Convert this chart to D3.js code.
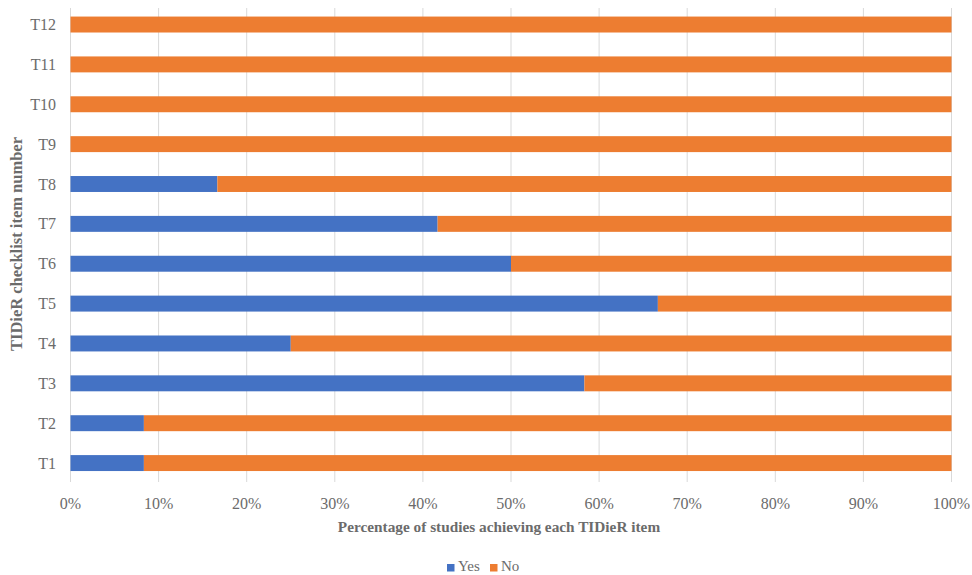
<!DOCTYPE html>
<html><head><meta charset="utf-8">
<script src="https://cdn.jsdelivr.net/npm/d3@7"></script>
<style>body{margin:0;background:#fff}svg{display:block}text{font-family:"Liberation Serif","Times New Roman",serif}</style>
</head><body><svg id="c" width="972" height="575"></svg>
<script>
const categories = ["T1","T2","T3","T4","T5","T6","T7","T8","T9","T10","T11","T12"];
const yesValues = [8.33,8.33,58.33,25,66.67,50,41.67,16.67,0,0,0,0];
const noValues = [91.67,91.67,41.67,75,33.33,50,58.33,83.33,100,100,100,100];
const xTicks = [0,10,20,30,40,50,60,70,80,90,100];
const seriesNames = ["Yes","No"];
const colors = ["#4472C4","#ED7D31"];

const svg = d3.select("#c");
const x = d3.scaleLinear().domain([0,100]).range([70.5,951.5]);
const y = d3.scaleBand().domain(categories.slice().reverse()).range([4.6,483]).paddingInner(0.6).paddingOuter(0.3);

// gridlines
svg.append("g").selectAll("line").data(xTicks).join("line")
  .attr("x1",d=>x(d)).attr("x2",d=>x(d)).attr("y1",8).attr("y2",482)
  .attr("stroke","#d9d9d9").attr("stroke-width",1);

const rows = categories.map((c,i)=>({c, yes:yesValues[i], no:noValues[i]}));
const g = svg.append("g");
g.selectAll("rect.yes").data(rows).join("rect").attr("class","yes")
  .attr("x",x(0)).attr("y",d=>y(d.c)).attr("height",y.bandwidth())
  .attr("width",d=>x(d.yes)-x(0)).attr("fill",colors[0]);
g.selectAll("rect.no").data(rows).join("rect").attr("class","no")
  .attr("x",d=>x(d.yes)).attr("y",d=>y(d.c)).attr("height",y.bandwidth())
  .attr("width",d=>x(d.yes+d.no)-x(d.yes)).attr("fill",colors[1]);

// x tick labels
svg.append("g").selectAll("text").data(xTicks).join("text")
  .attr("x",d=>x(d)).attr("y",509).attr("text-anchor","middle")
  .attr("font-size",16).attr("fill","#6b6b6b").text(d=>d+"%");

// y tick labels
svg.append("g").selectAll("text").data(categories).join("text")
  .attr("x",56).attr("y",d=>y(d)+y.bandwidth()/2).attr("dy","0.35em").attr("text-anchor","end")
  .attr("font-size",16).attr("fill","#6b6b6b").text(d=>d);

// axis titles
svg.append("text").attr("x",499).attr("y",532).attr("text-anchor","middle")
  .attr("font-size",15.3).attr("font-weight","bold").attr("fill","#6b6b6b")
  .text("Percentage of studies achieving each TIDieR item");
svg.append("text").attr("transform","translate(22,244) rotate(-90)").attr("text-anchor","middle")
  .attr("font-size",16.5).attr("font-weight","bold").attr("fill","#6b6b6b")
  .text("TIDieR checklist item number");

// legend
const leg = svg.append("g");
const lx = [447, 490];
seriesNames.forEach((s,i)=>{
  leg.append("rect").attr("x",lx[i]).attr("y",564).attr("width",7.5).attr("height",7.5).attr("fill",colors[i]);
  leg.append("text").attr("x",lx[i]+11).attr("y",571).attr("font-size",15).attr("fill","#6b6b6b").text(s);
});
</script></body></html>
